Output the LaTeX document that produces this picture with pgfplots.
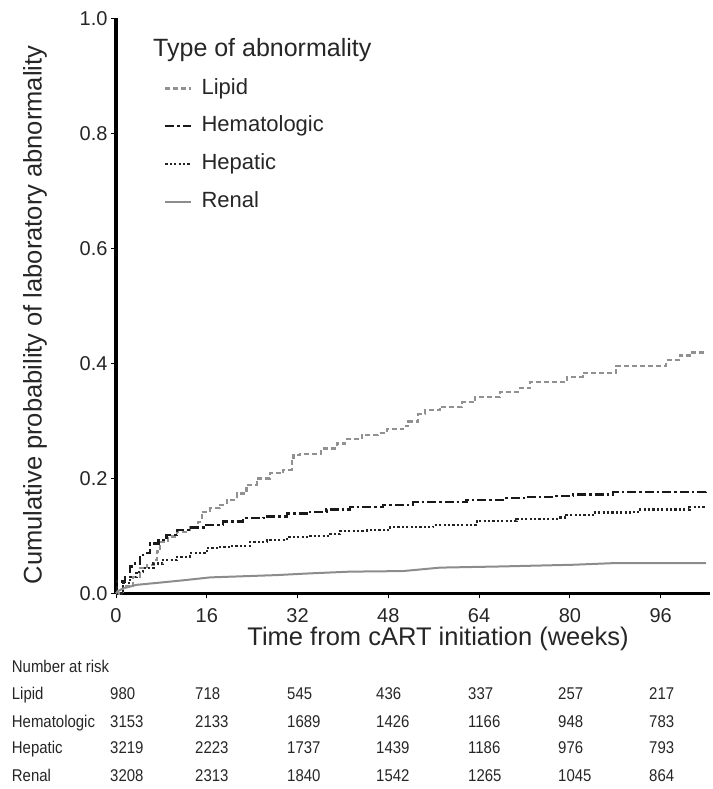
\documentclass[border=0pt]{standalone}
\usepackage{fontspec}
\setmainfont{Liberation Sans}
\usepackage{graphicx}
\usepackage{pgfplots}
\pgfplotsset{compat=1.18}
\definecolor{lipidc}{RGB}{145,145,145}
\definecolor{hemac}{RGB}{25,25,25}
\definecolor{hepac}{RGB}{35,35,35}
\definecolor{renalc}{RGB}{140,140,140}
\newcommand{\nar}[1]{\scalebox{0.88}[1]{\fontsize{17}{20}\selectfont #1}}
\begin{document}
\begin{tikzpicture}[x=1pt,y=1pt]
\path[use as bounding box] (0,0) rectangle (712,789);
\begin{axis}[
  at={(116pt,195.5pt)}, anchor=south west,
  scale only axis, width=594pt, height=575pt,
  xmin=0, xmax=104.7, ymin=0, ymax=1,
  axis lines=left,
  axis line style={-, line width=3.2pt, black},
  xtick={0,16,32,48,64,80,96},
  ytick={0,0.2,0.4,0.6,0.8,1.0},
  yticklabel style={/pgf/number format/.cd, fixed, fixed zerofill, precision=1},
  /pgf/number format/assume math mode=true,
  ticklabel style={font=\fontsize{20}{24}\selectfont, text=black!85},
  xticklabel style={yshift=-7pt},
  tick align=outside, major tick length=5pt,
  tick style={black, line width=0.9pt},
  clip=false,
  legend cell align=left,
  legend image code/.code={\draw[#1] (0pt,0pt) -- (26pt,0pt);},
  legend style={at={(0.0808,0.9003)}, anchor=north west, draw=none, fill=none,
    inner sep=0pt, row sep=12.7pt,
    /tikz/every odd column/.append style={column sep=7pt},
    font=\fontsize{22}{24}\selectfont,
    nodes={inner sep=2pt, text height=16pt, text depth=5pt, text=black!85}},
]
% Lipid
\addplot[const plot, color=lipidc, line width=2.2pt, dash pattern=on 5pt off 3pt] coordinates {
(0,0) (1.3,0.012) (3.0,0.029) (4.2,0.044) (5.4,0.050) (6.6,0.058) (7.2,0.073)
(7.8,0.090) (9.2,0.099) (10.7,0.107) (13.0,0.116) (14.5,0.125) (15.1,0.142)
(16.6,0.148) (18.3,0.154) (19.5,0.163) (21.3,0.174) (23.0,0.189) (24.8,0.200)
(27.1,0.209) (29.5,0.215) (31.0,0.232) (31.3,0.241) (32.4,0.243) (36.2,0.252)
(38.9,0.261) (40.4,0.268) (43.3,0.276) (46.2,0.279) (47.7,0.286) (50.6,0.291)
(51.5,0.299) (53.3,0.312) (54.5,0.319) (57.1,0.325) (61.0,0.333) (63.3,0.342)
(67.7,0.351) (71.2,0.357) (73.0,0.368) (79.5,0.377) (82.3,0.384) (88.2,0.396)
(97.0,0.406) (99.4,0.414) (101.1,0.419) (104.0,0.419)};
\addlegendentry{Lipid}
% Hematologic
\addplot[const plot, color=hemac, line width=2.4pt, dash pattern=on 9pt off 3pt on 2.5pt off 3pt] coordinates {
(0,0) (0.2,0.021) (1.6,0.029) (2.5,0.047) (3.3,0.052) (4.2,0.067) (5.1,0.070)
(6.0,0.087) (7.5,0.093) (8.9,0.102) (10.7,0.110) (13.0,0.115) (15.4,0.119)
(18.9,0.125) (22.4,0.131) (26.0,0.134) (30.1,0.139) (34.2,0.142) (37.1,0.146)
(41.2,0.150) (47.1,0.154) (52.4,0.159) (61.8,0.163) (68.8,0.166) (72.4,0.168)
(77.1,0.170) (80.6,0.172) (87.6,0.176) (104.0,0.177)};
\addlegendentry{Hematologic}
% Hepatic
\addplot[const plot, color=hepac, line width=2.2pt, dash pattern=on 2.2pt off 2.2pt] coordinates {
(0,0) (1.3,0.018) (2.5,0.029) (3.6,0.038) (4.8,0.044) (6.6,0.052) (8.3,0.058)
(10.7,0.064) (13.0,0.070) (16.0,0.079) (18.3,0.081) (20.1,0.083) (23.6,0.090)
(26.6,0.093) (30.1,0.098) (34.2,0.100) (37.7,0.103) (39.5,0.109) (44.2,0.110)
(48.3,0.115) (55.9,0.119) (63.6,0.126) (70.6,0.130) (78.2,0.132) (79.4,0.136)
(84.1,0.141) (90.6,0.142) (92.3,0.146) (101.1,0.151) (104.0,0.152)};
\addlegendentry{Hepatic}
% Renal
\addplot[color=renalc, line width=2pt] coordinates {
(0,0) (0.3,0.004) (1.3,0.009) (3.6,0.015) (7.8,0.019) (11.9,0.023) (16.6,0.028)
(22.4,0.030) (28.3,0.032) (34.2,0.035) (41.2,0.038) (50.6,0.039) (57.1,0.045)
(67.7,0.047) (80.6,0.050) (88.2,0.053) (104.0,0.053)};
\addlegendentry{Renal}
\end{axis}
% legend title
\node[anchor=base west, inner sep=0pt, text=black!85, font=\fontsize{25}{28}\selectfont] at (153,732) {Type of abnormality};
% axis labels
\node[rotate=90, anchor=center, inner sep=0pt, text=black!85, font=\fontsize{25.5}{28}\selectfont] at (35,474) {Cumulative probability of laboratory abnormality};
\node[anchor=center, inner sep=0pt, text=black!85, font=\fontsize{25.5}{28}\selectfont] at (438,150) {Time from cART initiation (weeks)};
% risk table
\begin{scope}[every node/.style={anchor=base west, inner sep=0pt, text=black!85}]
\node at (11.7,116.2) {\nar{Number at risk}};
\foreach \lab/\a/\b/\c/\d/\e/\f/\g/\yy in {
  Lipid/980/718/545/436/337/257/217/89,
  Hematologic/3153/2133/1689/1426/1166/948/783/61.5,
  Hepatic/3219/2223/1737/1439/1186/976/793/35,
  Renal/3208/2313/1840/1542/1265/1045/864/8}{
  \node at (11.7,\yy) {\nar{\lab}};
  \node at (110,\yy) {\nar{\a}};
  \node at (195,\yy) {\nar{\b}};
  \node at (287,\yy) {\nar{\c}};
  \node at (376,\yy) {\nar{\d}};
  \node at (468,\yy) {\nar{\e}};
  \node at (558,\yy) {\nar{\f}};
  \node at (649,\yy) {\nar{\g}};
}
\end{scope}
\end{tikzpicture}
\end{document}
